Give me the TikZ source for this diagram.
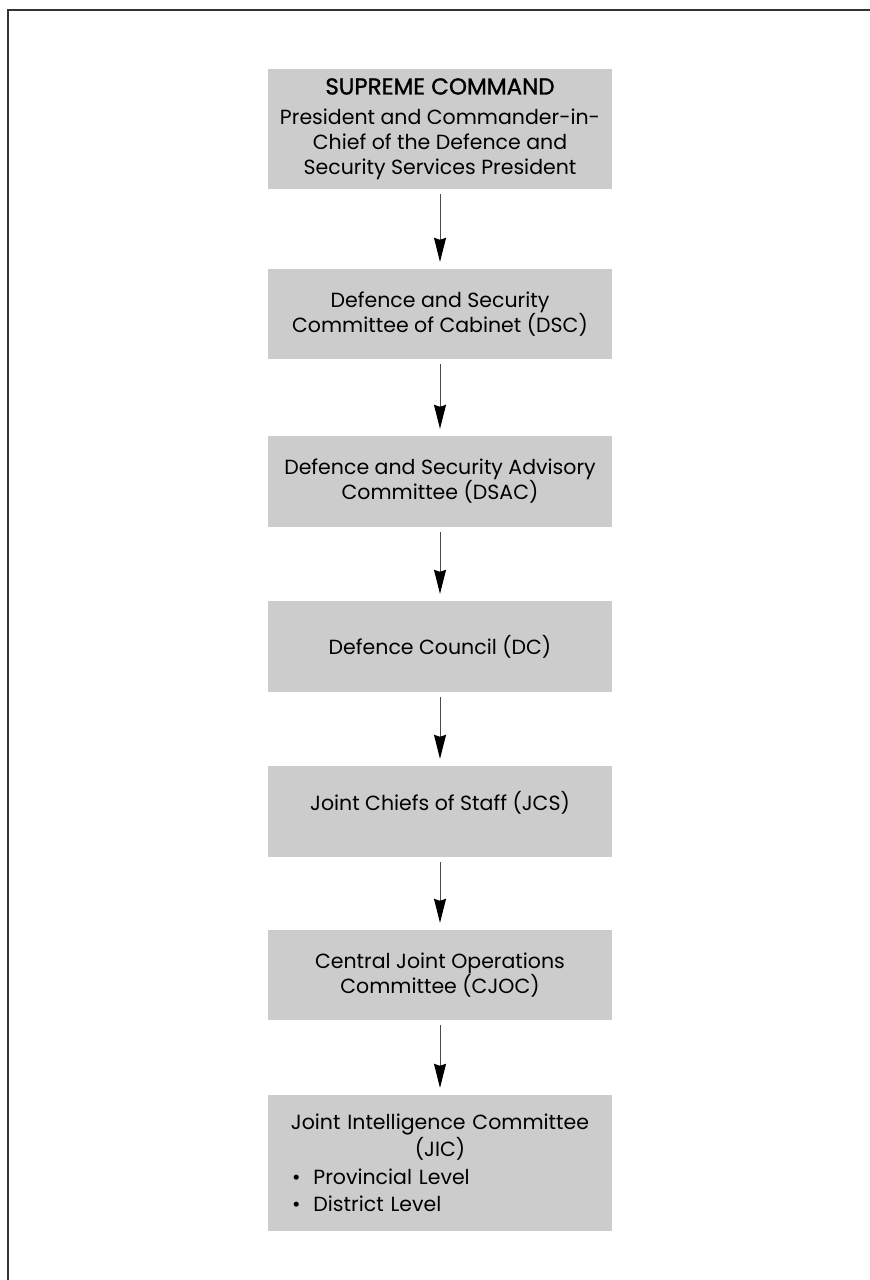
\documentclass[tikz,border=0pt]{standalone}
\usepackage{fontspec}
\setmainfont{Poppins}
\newfontfamily\titlefont{Poppins}[FakeBold=1.3]
\usetikzlibrary{arrows.meta}
\definecolor{boxgray}{HTML}{CCCCCC}
\definecolor{framegray}{HTML}{333333}
\definecolor{linegray}{HTML}{4A4A4A}
\tikzset{
  orgbox/.style={rectangle, fill=boxgray, inner sep=0pt, minimum width=344pt,
    align=center, text=black, font=\fontsize{20.5}{25}\selectfont},
  flow/.style={draw=linegray, line width=1pt,
    -{Stealth[length=24pt, width=12pt, inset=2pt, color=black, fill=black]},
    shorten <=5pt, shorten >=7pt}
}
\begin{document}
\begin{tikzpicture}[x=1pt,y=-1pt]
\useasboundingbox (0,0) rectangle (870,1280);
\draw[line width=1.7pt, draw=framegray] (7.8,1300) |- (890,9.8);

\node[orgbox, minimum height=120pt] (b1) at (440,129)
  {{\titlefont\fontsize{23}{25}\selectfont SUPREME COMMAND}\\[5pt]President and Commander-in-\\Chief of the Defence and\\Security Services President};
\node[orgbox, minimum height=90pt] (b2) at (440,314)
  {Defence and Security\\Committee of Cabinet (DSC)};
\node[orgbox, minimum height=91pt] (b3) at (440,481.5)
  {Defence and Security Advisory\\Committee (DSAC)};
\node[orgbox, minimum height=91pt] (b4) at (440,646.5)
  {Defence Council (DC)};
\node[orgbox, minimum height=91pt] (b5) at (440,811.5)
  {\raisebox{9pt}[\height][\depth]{Joint Chiefs of Staff (JCS)}};
\node[orgbox, minimum height=90pt] (b6) at (440,975)
  {Central Joint Operations\\Committee (CJOC)};
\node[orgbox, minimum height=136pt, text width=300pt, align=left,
  font=\fontsize{20.5}{27.5}\selectfont] (b7) at (440,1163)
  {\makebox[\linewidth][c]{Joint Intelligence Committee}\\
   \makebox[\linewidth][c]{(JIC)}\\
   \hspace*{2pt}\textbullet\hspace{13pt}Provincial Level\\
   \hspace*{2pt}\textbullet\hspace{13pt}District Level};

\draw[flow] (b1) -- (b2);
\draw[flow] (b2) -- (b3);
\draw[flow] (b3) -- (b4);
\draw[flow] (b4) -- (b5);
\draw[flow] (b5) -- (b6);
\draw[flow] (b6) -- (b7);
\end{tikzpicture}
\end{document}
